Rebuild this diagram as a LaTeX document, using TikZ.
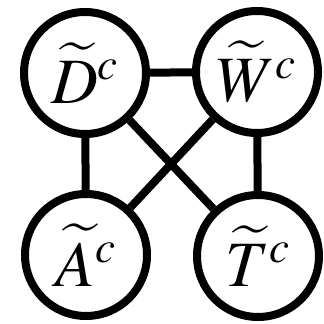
\documentclass[tikz,border=0pt]{standalone}
\usepackage{mathptmx}
\usepackage{graphicx}
\newcommand{\biglab}[1]{\scalebox{2.6}{\Huge$#1$}}
\begin{document}
\begin{tikzpicture}[x=1pt,y=1pt,
  vnode/.style={draw,circle,line width=8pt,minimum size=122pt,inner sep=0pt},
  edge/.style={line width=8pt}]
\useasboundingbox (0,0) rectangle (324,324);
\node[vnode] (D) at (85,251) {\biglab{\widetilde{D}^c}};
\node[vnode] (W) at (257,252) {\biglab{\widetilde{W}^c}};
\node[vnode] (A) at (86,69) {\biglab{\widetilde{A}^c}};
\node[vnode] (T) at (258,68) {\biglab{\widetilde{T}^c}};
\draw[edge] (D) -- (W);
\draw[edge] (D) -- (A);
\draw[edge] (W) -- (T);
\draw[edge] (D) -- (T);
\draw[edge] (W) -- (A);
\end{tikzpicture}
\end{document}
